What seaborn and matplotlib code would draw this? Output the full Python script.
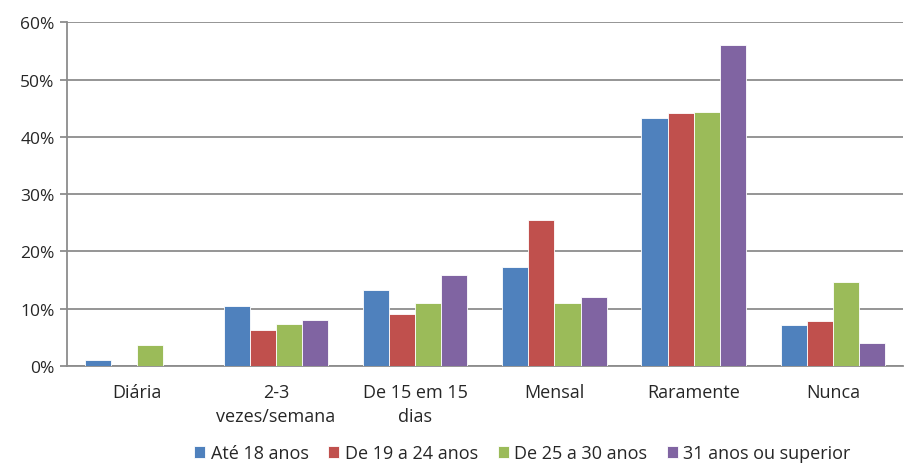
import pandas as pd
import numpy as np
import matplotlib
matplotlib.use("Agg")
import matplotlib.pyplot as plt
import seaborn as sns

categorias = ["Diária", "2-3\nvezes/semana", "De 15 em 15\ndias", "Mensal", "Raramente", "Nunca"]
grupos = ["Até 18 anos", "De 19 a 24 anos", "De 25 a 30 anos", "31 anos ou superior"]

ate_18 = [1.0, 10.4, 13.2, 17.2, 43.2, 7.2]
de_19_24 = [0.0, 6.3, 9.1, 25.4, 44.1, 7.9]
de_25_30 = [3.7, 7.4, 11.0, 11.0, 44.4, 14.7]
mais_31 = [0.0, 8.0, 15.9, 12.0, 56.0, 4.0]

cores = ["#4F81BD", "#C0504D", "#9BBB59", "#8064A2"]

# long format for seaborn
rows = []
for g, vals in zip(grupos, [ate_18, de_19_24, de_25_30, mais_31]):
    for c, v in zip(categorias, vals):
        rows.append({"cat": c, "grupo": g, "valor": v})
df = pd.DataFrame(rows)

sns.set_style("white")
plt.rcParams['font.family'] = ['Open Sans', 'DejaVu Sans']

fig = plt.figure(figsize=(9.2, 4.64), dpi=100)
ax = fig.add_axes([0.073, 0.209, 0.908, 0.741])

sns.barplot(data=df, x="cat", y="valor", hue="grupo", order=categorias,
            hue_order=grupos, palette=cores, saturation=1, width=0.75, ax=ax,
            edgecolor="white", linewidth=0.6, errorbar=None, zorder=3)

ax.set_ylim(0, 60)
ax.set_xlim(-0.5, len(categorias) - 0.5)
ax.set_yticks(np.arange(0, 61, 10))
ax.set_yticklabels([f"{t}%" for t in range(0, 61, 10)], fontsize=12.5)
ax.yaxis.grid(True, color="#8c8c8c", linewidth=1.3, zorder=0)
ax.set_axisbelow(True)

ax.set_xticks(range(len(categorias)))
ax.set_xticklabels(categorias, fontsize=13, linespacing=1.45)
ax.set_xticks(np.arange(-0.5, len(categorias), 1), minor=True)
ax.tick_params(axis="x", which="major", length=0, pad=12)
ax.tick_params(axis="x", which="minor", length=5, color="#8c8c8c", width=1.3)
ax.tick_params(axis="y", length=5, color="#8c8c8c", width=1.3, left=True, pad=4)
ax.set_xlabel("")
ax.set_ylabel("")

for s in ["top", "right"]:
    ax.spines[s].set_visible(False)
for s in ["left", "bottom"]:
    ax.spines[s].set_color("#8c8c8c")
    ax.spines[s].set_linewidth(1.3)

ax.legend(loc="center", bbox_to_anchor=(0.545, -0.254), ncol=4, frameon=False,
          fontsize=13, handlelength=0.6, handleheight=0.6, handletextpad=0.3,
          columnspacing=1.1)

fig.savefig("out.png", dpi=100)
